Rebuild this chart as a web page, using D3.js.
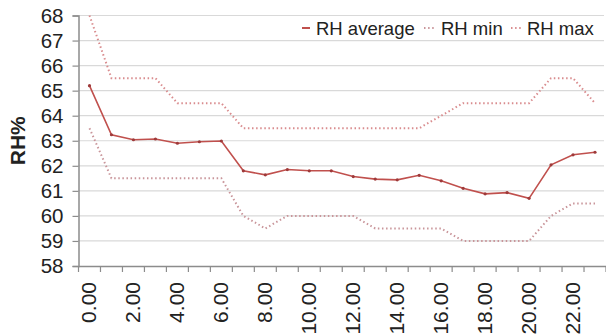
<!DOCTYPE html>
<html><head><meta charset="utf-8">
<script src="https://cdn.jsdelivr.net/npm/d3@7/dist/d3.min.js"></script>
<style>body{margin:0;background:#fff}svg{display:block}text{font-family:"Liberation Sans",Arial,sans-serif;fill:#222}</style>
</head><body><svg id="c" width="606" height="336"></svg>
<script>
const hours = ["0.00","1.00","2.00","3.00","4.00","5.00","6.00","7.00","8.00","9.00","10.00","11.00","12.00","13.00","14.00","15.00","16.00","17.00","18.00","19.00","20.00","21.00","22.00","23.00"];
const rhAverage = [65.2,63.24,63.04,63.07,62.9,62.96,62.99,61.8,61.64,61.85,61.8,61.8,61.57,61.47,61.44,61.62,61.4,61.1,60.88,60.93,60.7,62.04,62.44,62.54];
const rhMin = [63.5,61.5,61.5,61.5,61.5,61.5,61.5,60,59.5,60,60,60,60,59.5,59.5,59.5,59.5,59,59,59,59,60,60.5,60.5];
const rhMax = [68,65.5,65.5,65.5,64.5,64.5,64.5,63.5,63.5,63.5,63.5,63.5,63.5,63.5,63.5,63.5,64,64.5,64.5,64.5,64.5,65.5,65.5,64.5];
const yTicks = [58,59,60,61,62,63,64,65,66,67,68];
const xLabels = ["0.00","2.00","4.00","6.00","8.00","10.00","12.00","14.00","16.00","18.00","20.00","22.00"];
const seriesNames = ["RH average","RH min","RH max"];

const svg = d3.select("#c");
const L = 78.5, R = 606, T = 15.5, B = 266;
const x = d3.scaleBand().domain(hours).range([L, R]).paddingInner(0).paddingOuter(0);
const y = d3.scaleLinear().domain([58, 68]).range([B, T]);
const cx = h => x(h) + x.bandwidth() / 2;

// gridlines
svg.append("g").selectAll("line").data(yTicks.filter(d => d > 58)).join("line")
  .attr("x1", L).attr("x2", 604).attr("y1", d => y(d)).attr("y2", d => y(d))
  .attr("stroke", "#d9d9d9").attr("stroke-width", 1.2);

// y axis
const ya = svg.append("g").attr("transform", `translate(${L},0)`)
  .call(d3.axisLeft(y).tickValues(yTicks).tickSize(6).tickPadding(9).tickFormat(d3.format("d")));
ya.select(".domain").attr("stroke", "#8c8c8c").attr("stroke-width", 1.5);
ya.selectAll(".tick line").attr("stroke", "#8c8c8c").attr("stroke-width", 1.2);
ya.selectAll("text").style("font-size", "20.5px").attr("fill", "#222");

// x axis
const xa = svg.append("g").attr("transform", `translate(0,${B})`)
  .call(d3.axisBottom(x).tickValues([]).tickSizeOuter(0));
xa.select(".domain").attr("stroke", "#8c8c8c").attr("stroke-width", 1.5);
svg.append("g").selectAll("line").data(d3.range(hours.length + 1)).join("line")
  .attr("x1", i => L + i * x.bandwidth()).attr("x2", i => L + i * x.bandwidth())
  .attr("y1", B).attr("y2", B + 6).attr("stroke", "#8c8c8c").attr("stroke-width", 1.2);
svg.append("g").selectAll("text").data(xLabels).join("text")
  .attr("transform", d => `translate(${cx(d) + 7},${B + 16}) rotate(-90)`)
  .attr("text-anchor", "end").style("font-size", "21px").text(d => d);

// y title
svg.append("text").attr("transform", `translate(25,${(T + B) / 2}) rotate(-90)`)
  .attr("text-anchor", "middle").style("font-size", "21px").style("font-weight", "bold").text("RH%");

const line = d3.line().x((d, i) => cx(hours[i])).y(d => y(d));
svg.append("path").datum(rhMax).attr("d", line).attr("fill", "none")
  .attr("stroke", "#d98c8e").attr("stroke-width", 2).attr("stroke-dasharray", "1.5,2.6");
svg.append("path").datum(rhMin).attr("d", line).attr("fill", "none")
  .attr("stroke", "#c9959a").attr("stroke-width", 2).attr("stroke-dasharray", "1.5,2.6");
svg.append("path").datum(rhAverage).attr("d", line).attr("fill", "none")
  .attr("stroke", "#c0504d").attr("stroke-width", 1.6);
svg.append("g").selectAll("circle").data(rhAverage).join("circle")
  .attr("cx", (d, i) => cx(hours[i])).attr("cy", d => y(d)).attr("r", 1.6).attr("fill", "#9e3a3a");

// legend
const lg = svg.append("g");
const lgY = 28;
const items = [
  {name: seriesNames[0], sx: 302, tx: 316, color: "#c0504d", dash: null},
  {name: seriesNames[1], sx: 424, tx: 441, color: "#c9959a", dash: "1.5,2.6"},
  {name: seriesNames[2], sx: 511, tx: 527, color: "#d98c8e", dash: "1.5,2.6"}
];
items.forEach(it => {
  const w = it.dash ? 12 : 8;
  lg.append("line").attr("x1", it.sx).attr("x2", it.sx + w).attr("y1", lgY).attr("y2", lgY)
    .attr("stroke", it.color).attr("stroke-width", 2).attr("stroke-dasharray", it.dash);
  lg.append("text").attr("x", it.tx).attr("y", lgY + 6.5).style("font-size", "18.5px").text(it.name);
});
</script></body></html>
